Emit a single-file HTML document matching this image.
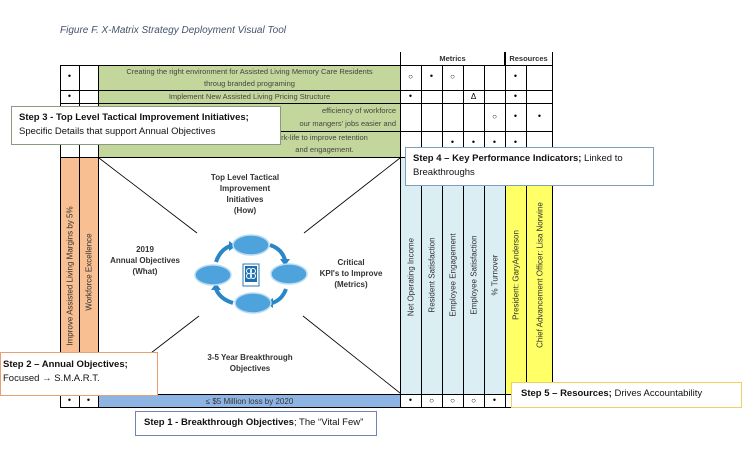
<!DOCTYPE html>
<html><head><meta charset="utf-8"><style>
body{margin:0;width:745px;height:456px;background:#fff;position:relative;overflow:hidden;font-family:"Liberation Sans",sans-serif;}
.a{position:absolute;box-sizing:border-box;}
.g{background:#c3d69b;color:#444;font-size:7.5px;text-align:center;line-height:12px;}
.d{font-size:9px;text-align:center;color:#000;}
.v{position:absolute;white-space:nowrap;font-size:8px;color:#333;transform:translate(-50%,-50%) rotate(-90deg);}
.lab{position:absolute;font-size:8px;font-weight:bold;color:#333;text-align:center;line-height:11px;}
.box{position:absolute;box-sizing:border-box;background:#fff;font-size:9.5px;color:#111;padding:4px 7px;line-height:14px;}
</style></head><body>
<div class="a" style="left:60px;top:25px;font-size:10px;font-style:italic;color:#44546a;">Figure F. X-Matrix Strategy Deployment Visual Tool</div>

<div class="a" style="left:400px;top:52px;width:105px;height:14px;border-left:1px solid #000;border-right:1px solid #000;font-size:7.5px;font-weight:bold;text-align:center;color:#333;line-height:14px;">Metrics</div>
<div class="a" style="left:505px;top:52px;width:48px;height:14px;border-right:1px solid #000;font-size:7.5px;font-weight:bold;text-align:center;color:#333;line-height:14px;">Resources</div>

<svg class="a" style="left:0;top:0" width="745" height="456">
<rect x="98" y="65" width="302" height="92" fill="#c3d69b"/>
<rect x="60" y="157" width="38" height="237" fill="#f7bf92"/>
<rect x="400" y="157" width="105" height="237" fill="#dbeef4"/>
<rect x="505" y="157" width="48" height="237" fill="#ffff66"/>
<rect x="98" y="394" width="302" height="14" fill="#8eb4e3"/>
<g stroke="#000" stroke-width="1" fill="none">
<rect x="60.5" y="65.5" width="492" height="342"/>
<line x1="60" y1="90.5" x2="553" y2="90.5"/>
<line x1="60" y1="103.5" x2="553" y2="103.5"/>
<line x1="60" y1="131.5" x2="553" y2="131.5"/>
<line x1="60" y1="157.5" x2="553" y2="157.5"/>
<line x1="60" y1="394.5" x2="553" y2="394.5"/>
<line x1="79.5" y1="65" x2="79.5" y2="408"/>
<line x1="98.5" y1="65" x2="98.5" y2="408"/>
<line x1="400.5" y1="52" x2="400.5" y2="408"/>
<line x1="421.5" y1="65" x2="421.5" y2="408"/>
<line x1="442.5" y1="65" x2="442.5" y2="408"/>
<line x1="463.5" y1="65" x2="463.5" y2="408"/>
<line x1="484.5" y1="65" x2="484.5" y2="408"/>
<line x1="505.5" y1="52" x2="505.5" y2="408"/>
<line x1="526.5" y1="65" x2="526.5" y2="408"/>
<line x1="552.5" y1="52" x2="552.5" y2="408"/>
</g>
<g stroke="#000" stroke-width="0.8">
<line x1="99" y1="158" x2="197" y2="233"/>
<line x1="400" y1="158" x2="304" y2="233"/>
<line x1="99" y1="393" x2="199" y2="316"/>
<line x1="400" y1="393" x2="303" y2="316"/>
</g>
<g fill="none" stroke="#2a86c6" stroke-width="4">
<path d="M216 262 Q220 250 230 246"/>
<path d="M270 245 Q282 249 285 260"/>
<path d="M286 289 Q282 300 272 303"/>
<path d="M233 303 Q220 299 216 289"/>
</g>
<g fill="#2a86c6">
<polygon points="229,241 236,246 229,251"/>
<polygon points="280,259 290,259 285,266"/>
<polygon points="273,298 266,303 273,308"/>
<polygon points="211,290 221,290 216,283"/>
</g>
<g fill="#4fa3dd" stroke="#b9ddf3" stroke-width="1.5">
<ellipse cx="251" cy="245" rx="18" ry="10"/>
<ellipse cx="213" cy="275" rx="18" ry="10"/>
<ellipse cx="289" cy="274" rx="18" ry="10"/>
<ellipse cx="253" cy="303" rx="18" ry="10"/>
</g>
<rect x="243" y="264" width="16" height="22" fill="#fff" stroke="#2e79b5"/>
<rect x="245" y="266" width="12" height="16" fill="#1f6fb0"/>
<circle cx="249" cy="271" r="2.5" fill="none" stroke="#fff"/><circle cx="253" cy="271" r="2.5" fill="none" stroke="#fff"/>
<circle cx="249" cy="276" r="2.5" fill="none" stroke="#fff"/><circle cx="253" cy="276" r="2.5" fill="none" stroke="#fff"/>
</svg>

<div class="a g" style="left:99px;top:66px;width:301px;height:24px;">Creating the right environment for Assisted Living Memory Care Residents<br>throug branded programing</div>
<div class="a g" style="left:99px;top:91px;width:301px;height:12px;line-height:12px;">Implement New Assisted Living Pricing Structure</div>
<div class="a g" style="left:99px;top:104px;width:301px;height:27px;text-align:right;padding-right:4px;line-height:13px;">efficiency of workforce<br>our mangers' jobs easier and</div>
<div class="a g" style="left:99px;top:132px;width:301px;height:25px;line-height:12px;padding-left:150px;">rk-life to improve retention<br>and engagement.</div>

<div class="a d" style="left:60px;top:71px;width:19px;">•</div>
<div class="a d" style="left:60px;top:91px;width:19px;">•</div>
<div class="a d" style="left:79px;top:137px;width:19px;">•</div>
<div class="a d" style="left:60px;top:395px;width:19px;">•</div>
<div class="a d" style="left:79px;top:395px;width:19px;">•</div>

<div class="a d" style="left:400px;top:72px;width:21px;font-size:8px;">○</div>
<div class="a d" style="left:421px;top:71px;width:21px;">•</div>
<div class="a d" style="left:442px;top:72px;width:21px;font-size:8px;">○</div>
<div class="a d" style="left:505px;top:71px;width:21px;">•</div>
<div class="a d" style="left:400px;top:91px;width:21px;">•</div>
<div class="a d" style="left:463px;top:92px;width:21px;font-size:8px;">Δ</div>
<div class="a d" style="left:505px;top:91px;width:21px;">•</div>
<div class="a d" style="left:484px;top:112px;width:21px;font-size:8px;">○</div>
<div class="a d" style="left:505px;top:111px;width:21px;">•</div>
<div class="a d" style="left:526px;top:111px;width:27px;">•</div>
<div class="a d" style="left:442px;top:137px;width:21px;">•</div>
<div class="a d" style="left:463px;top:137px;width:21px;">•</div>
<div class="a d" style="left:484px;top:137px;width:21px;">•</div>
<div class="a d" style="left:505px;top:137px;width:21px;">•</div>
<div class="a d" style="left:400px;top:395px;width:21px;">•</div>
<div class="a d" style="left:421px;top:396px;width:21px;font-size:8px;">○</div>
<div class="a d" style="left:442px;top:396px;width:21px;font-size:8px;">○</div>
<div class="a d" style="left:463px;top:396px;width:21px;font-size:8px;">○</div>
<div class="a d" style="left:484px;top:395px;width:21px;">•</div>

<div class="a" style="left:99px;top:395px;width:301px;height:13px;font-size:8px;color:#333;text-align:center;line-height:13px;">≤ $5 Million loss by 2020</div>

<div class="v" style="left:70px;top:276px;">Improve Assisted Living Margins by 5%</div>
<div class="v" style="left:89px;top:272px;">Workforce Excellence</div>
<div class="v" style="left:411px;top:277px;">Net Operating Income</div>
<div class="v" style="left:432px;top:275px;">Resident Satisfaction</div>
<div class="v" style="left:453px;top:275px;">Employee Engagement</div>
<div class="v" style="left:474px;top:275px;">Employee Satisfaction</div>
<div class="v" style="left:495px;top:275px;">% Turnover</div>
<div class="v" style="left:516px;top:275px;">President: GaryAnderson</div>
<div class="v" style="left:540px;top:275px;">Chief Advancement Officer: Lisa Norwine</div>

<div class="lab" style="left:195px;top:172px;width:100px;">Top Level Tactical<br>Improvement<br>Initiatives<br>(How)</div>
<div class="lab" style="left:100px;top:244px;width:90px;">2019<br>Annual Objectives<br>(What)</div>
<div class="lab" style="left:305px;top:257px;width:92px;">Critical<br>KPI's to Improve<br>(Metrics)</div>
<div class="lab" style="left:190px;top:352px;width:120px;">3-5 Year Breakthrough<br>Objectives</div>

<div class="box" style="left:11px;top:106px;width:270px;height:39px;border:1px solid #8a9a80;padding-top:4px;"><b>Step 3 - Top Level Tactical Improvement Initiatives;</b><br>Specific Details that support Annual Objectives</div>
<div class="box" style="left:405px;top:147px;width:249px;height:39px;border:1px solid #7f9fbf;"><b>Step 4 – Key Performance Indicators;</b> Linked to<br>Breakthroughs</div>
<div class="box" style="left:0px;top:352px;width:158px;height:44px;border:1px solid #e8a070;padding:5px 2px;"><b>Step 2 – Annual Objectives;</b><br>Focused → S.M.A.R.T.</div>
<div class="box" style="left:135px;top:411px;width:242px;height:25px;border:1px solid #6a86b0;padding:4px 8px;"><b>Step 1 - Breakthrough Objectives</b>; The “Vital Few”</div>
<div class="box" style="left:511px;top:382px;width:231px;height:26px;border:1px solid #f0d060;padding:4px 9px;"><b>Step 5 – Resources;</b> Drives Accountability</div>
</body></html>
